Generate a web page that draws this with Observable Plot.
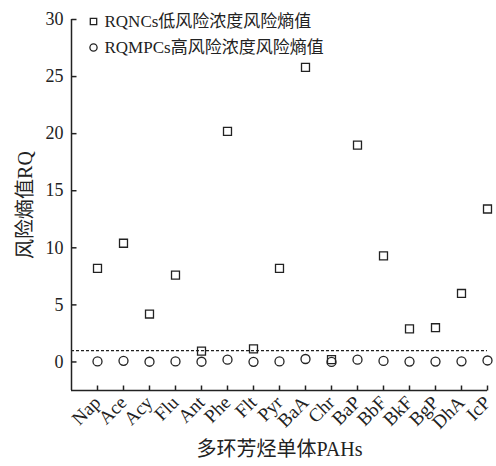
<!DOCTYPE html>
<html>
<head>
<meta charset="utf-8">
<script src="https://cdn.jsdelivr.net/npm/d3@7"></script>
<script src="https://cdn.jsdelivr.net/npm/@observablehq/plot@0.6"></script>
<style>
  html, body { margin: 0; padding: 0; background: #fff; }
</style>
</head>
<body>
<div id="chart"></div>
<script>
const pahs = ["Nap","Ace","Acy","Flu","Ant","Phe","Flt","Pyr","BaA","Chr","BaP","BbF","BkF","BgP","DhA","IcP"];
const rqNCs = [8.2, 10.4, 4.2, 7.6, 0.95, 20.2, 1.15, 8.2, 25.8, 0.2, 19.0, 9.3, 2.9, 3.0, 6.0, 13.4];
const rqMPCs = [0.05, 0.1, 0.02, 0.05, 0.02, 0.2, 0.01, 0.05, 0.26, 0.0, 0.2, 0.09, 0.03, 0.03, 0.06, 0.13];
const yTicks = [0, 5, 10, 15, 20, 25, 30];
const threshold = 1;
const seriesNames = ["RQNCs低风险浓度风险熵值", "RQMPCs高风险浓度风险熵值"];
const yLabel = "风险熵值RQ";
const xLabel = "多环芳烃单体PAHs";

const rows = pahs.map((name, i) => ({idx: i + 1, name, nc: rqNCs[i], mpc: rqMPCs[i]}));
const xTicks = rows.map(d => d.idx);
const ink = "#222";
const font = "'Liberation Serif','Noto Sans CJK SC',serif";

const W = 496, H = 466, mL = 71, mR = 9, mT = 19, mB = 76;
const plotW = W - mL - mR, plotH = H - mT - mB;

// inward tick shapes as custom symbols
const tickRight = {draw(c) { c.moveTo(0, 0); c.lineTo(5, 0); }};
const tickUp = {draw(c) { c.moveTo(0, 0); c.lineTo(0, -5); }};

const chart = Plot.plot({
  width: W,
  height: H,
  marginLeft: mL,
  marginRight: mR,
  marginTop: mT,
  marginBottom: mB,
  style: {fontFamily: font, fontSize: "17px", background: "#fff"},
  x: {domain: [0, 16]},
  y: {domain: [-2.5, 30]},
  marks: [
    Plot.ruleY([threshold], {stroke: ink, strokeWidth: 1.2, strokeDasharray: "3,2"}),
    Plot.ruleX([0], {stroke: ink, strokeWidth: 1.5}),
    Plot.ruleY([-2.5], {stroke: ink, strokeWidth: 1.5}),
    Plot.dot(yTicks, {y: d => d, frameAnchor: "left", symbol: tickRight, stroke: ink, strokeWidth: 1.5}),
    Plot.dot(xTicks, {x: d => d, frameAnchor: "bottom", symbol: tickUp, stroke: ink, strokeWidth: 1.5}),
    Plot.axisY({ticks: yTicks, tickSize: 0, tickPadding: 8, label: null, fontSize: 18, fontFamily: font, fill: ink}),
    Plot.axisX({ticks: xTicks, tickFormat: i => pahs[i - 1], tickRotate: -45, tickSize: 0, tickPadding: 9, label: null, fontSize: 19, fontFamily: font, fill: ink}),
    Plot.dot(rows, {x: "idx", y: "mpc", symbol: "circle", r: 4.5, stroke: ink, strokeWidth: 1.3, fill: "none"}),
    Plot.dot(rows, {x: "idx", y: "nc", symbol: "square", r: 4.5, stroke: ink, strokeWidth: 1.3, fill: "none"}),
    Plot.dot([0], {frameAnchor: "top-left", dx: 22, dy: 2, symbol: "square", r: 3.6, stroke: ink, strokeWidth: 1.3, fill: "none"}),
    Plot.dot([0], {frameAnchor: "top-left", dx: 22, dy: 28, symbol: "circle", r: 3.6, stroke: ink, strokeWidth: 1.3, fill: "none"}),
    Plot.text([seriesNames[0]], {frameAnchor: "top-left", dx: 33, dy: 2, textAnchor: "start", lineAnchor: "middle", fontSize: 17, fontFamily: font, fill: ink}),
    Plot.text([seriesNames[1]], {frameAnchor: "top-left", dx: 33, dy: 28, textAnchor: "start", lineAnchor: "middle", fontSize: 17, fontFamily: font, fill: ink}),
    Plot.text([yLabel], {frameAnchor: "left", dx: -46, rotate: -90, textAnchor: "middle", lineAnchor: "middle", fontSize: 20, fontFamily: font, fill: ink}),
    Plot.text([xLabel], {frameAnchor: "bottom", dy: 59, textAnchor: "middle", lineAnchor: "middle", fontSize: 20, fontFamily: font, fill: ink})
  ]
});
document.getElementById("chart").appendChild(chart);
</script>
</body>
</html>
